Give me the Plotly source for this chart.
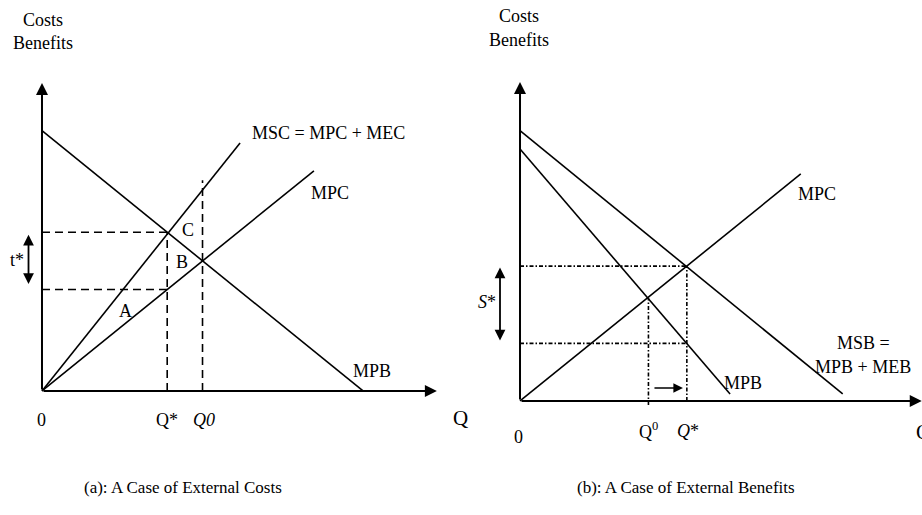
import plotly.graph_objects as go

# ── Style ────────────────────────────────────────────────────────────────────
INK = "#000000"
FONT = "Liberation Serif"
LW = 1.6
TXT = 18

# ── Panel (a): external costs ────────────────────────────────────────────────
A_MPB_Q, A_MPB_P = [0, 10], [10, 0]
A_MSC_Q, A_MSC_P = [0, 6.17], [0, 9.53]
A_MPC_Q, A_MPC_P = [0, 8.47], [0, 8.46]
A_Q_STAR, A_P_C, A_P_A = 3.9, 6.1, 3.9
A_Q0, A_Q0_TOP = 5.0, 8.1
A_AXIS_Q, A_AXIS_P = 12.3, 11.83

# ── Panel (b): external benefits ─────────────────────────────────────────────
B_MSB_Q, B_MSB_P = [0, 10], [10, 0.26]
B_MPB_Q, B_MPB_P = [0, 6.51], [9.32, 0.26]
B_MPC_Q, B_MPC_P = [0, 8.70], [0, 8.40]
B_Q_STAR, B_P_STAR, B_P_SUB = 5.17, 4.99, 2.13
B_Q0, B_P0 = 3.98, 3.82
B_AXIS_Q, B_AXIS_P = 12.45, 11.8

fig = go.Figure()


def line(q, p, xa, ya, dash="solid"):
    fig.add_trace(go.Scatter(
        x=q, y=p, xaxis=xa, yaxis=ya, mode="lines",
        line=dict(color=INK, width=LW, dash=dash),
        hoverinfo="skip", showlegend=False,
    ))


def label(text, q, p, xr, yr, size=TXT, xanchor="center"):
    fig.add_annotation(
        text=text, x=q, y=p, xref=xr, yref=yr, showarrow=False,
        font=dict(family=FONT, size=size, color=INK), xanchor=xanchor,
    )


def arrow(q0, p0, q1, p1, xr, yr, width=2, both=False):
    fig.add_annotation(
        x=q1, y=p1, ax=q0, ay=p0, xref=xr, yref=yr, axref=xr, ayref=yr,
        text="", showarrow=True, arrowhead=2, arrowsize=1.2,
        startarrowhead=2, startarrowsize=1.2,
        arrowside="end+start" if both else "end",
        arrowwidth=width, arrowcolor=INK,
    )


# panel (a) curves
DASH_A = "8px,5px"
line(A_MPB_Q, A_MPB_P, "x", "y")
line(A_MSC_Q, A_MSC_P, "x", "y")
line(A_MPC_Q, A_MPC_P, "x", "y")
line([0, A_Q_STAR], [A_P_C, A_P_C], "x", "y", DASH_A)
line([0, A_Q_STAR], [A_P_A, A_P_A], "x", "y", DASH_A)
line([A_Q_STAR, A_Q_STAR], [0, A_P_C], "x", "y", DASH_A)
line([A_Q0, A_Q0], [0, A_Q0_TOP], "x", "y", DASH_A)
arrow(0, 0, A_AXIS_Q, 0, "x", "y")
arrow(0, 0, 0, A_AXIS_P, "x", "y")
arrow(-0.42, A_P_A + 0.15, -0.42, A_P_C - 0.1, "x", "y", width=1.8, both=True)

label("Costs", 0.03, 14.25, "x", "y")
label("Benefits", 0.03, 13.37, "x", "y")
label("MSC = MPC + MEC", 8.91, 9.9, "x", "y")
label("MPC", 8.97, 7.62, "x", "y")
label("MPB", 10.28, 0.77, "x", "y")
label("C", 4.55, 6.19, "x", "y")
label("B", 4.35, 4.97, "x", "y")
label("A", 2.6, 3.08, "x", "y")
label("t*", -0.78, 5.03, "x", "y")
label("0", 0, -1.11, "x", "y")
label("Q*", A_Q_STAR, -1.11, "x", "y")
label("<i>Q0</i>", A_Q0 + 0.05, -1.11, "x", "y")
label("Q", 13.05, -1.03, "x", "y", size=21)

# panel (b) curves
DASH_B = "4px,2px,1.5px,2px"
line(B_MSB_Q, B_MSB_P, "x2", "y2")
line(B_MPB_Q, B_MPB_P, "x2", "y2")
line(B_MPC_Q, B_MPC_P, "x2", "y2")
line([0, B_Q_STAR], [B_P_STAR, B_P_STAR], "x2", "y2", DASH_B)
line([0, B_Q_STAR], [B_P_SUB, B_P_SUB], "x2", "y2", DASH_B)
line([B_Q0, B_Q0], [-0.15, B_P0], "x2", "y2", DASH_B)
line([B_Q_STAR, B_Q_STAR], [0, B_P_STAR], "x2", "y2", DASH_B)
arrow(0, 0, B_AXIS_Q, 0, "x2", "y2")
arrow(0, 0, 0, B_AXIS_P, "x2", "y2")
arrow(-0.62, B_P_SUB + 0.05, -0.62, B_P_STAR - 0.05, "x2", "y2", width=1.8, both=True)
arrow(4.12, 0.48, 5.05, 0.48, "x2", "y2", width=1.6)

label("Costs", -0.03, 14.24, "x2", "y2")
label("Benefits", -0.03, 13.36, "x2", "y2")
label("MPC", 9.19, 7.65, "x2", "y2")
label("MPB", 6.91, 0.68, "x2", "y2")
label("MSB =", 10.63, 2.15, "x2", "y2")
label("MPB + MEB", 10.63, 1.27, "x2", "y2")
label("<i>S</i>*", -1.02, 3.67, "x2", "y2")
label("0", -0.06, -1.33, "x2", "y2")
label("Q<sup>0</sup>", B_Q0, -1.11, "x2", "y2")
label("<i>Q</i>*", B_Q_STAR + 0.05, -1.11, "x2", "y2")
label("Q", 12.2, -1.15, "x2", "y2", size=21, xanchor="left")

# captions
fig.add_annotation(text="(a): A Case of External Costs", x=183 / 922, y=1 - 487 / 515,
                   xref="paper", yref="paper", xanchor="center", yanchor="middle",
                   showarrow=False, font=dict(family=FONT, size=17, color=INK))
fig.add_annotation(text="(b): A Case of External Benefits", x=686 / 922, y=1 - 487 / 515,
                   xref="paper", yref="paper", xanchor="center", yanchor="middle",
                   showarrow=False, font=dict(family=FONT, size=17, color=INK))

hidden = dict(visible=False, showgrid=False, zeroline=False, fixedrange=True)
fig.update_layout(
    width=922, height=515,
    margin=dict(l=0, r=0, t=0, b=0),
    paper_bgcolor="white", plot_bgcolor="rgba(0,0,0,0)",
    xaxis=dict(hidden, domain=[0, 1], range=[-1.308, 27.41], anchor="y"),
    yaxis=dict(hidden, domain=[0, 1], range=[-4.764, 15.02], anchor="x"),
    xaxis2=dict(hidden, domain=[0, 1], range=[-16.114, 12.457], anchor="y2"),
    yaxis2=dict(hidden, domain=[0, 1], range=[-4.218, 14.835], anchor="x2"),
)

fig.write_html("out.html", config={"displayModeBar": False},
               post_script="document.body.style.margin='0';")
